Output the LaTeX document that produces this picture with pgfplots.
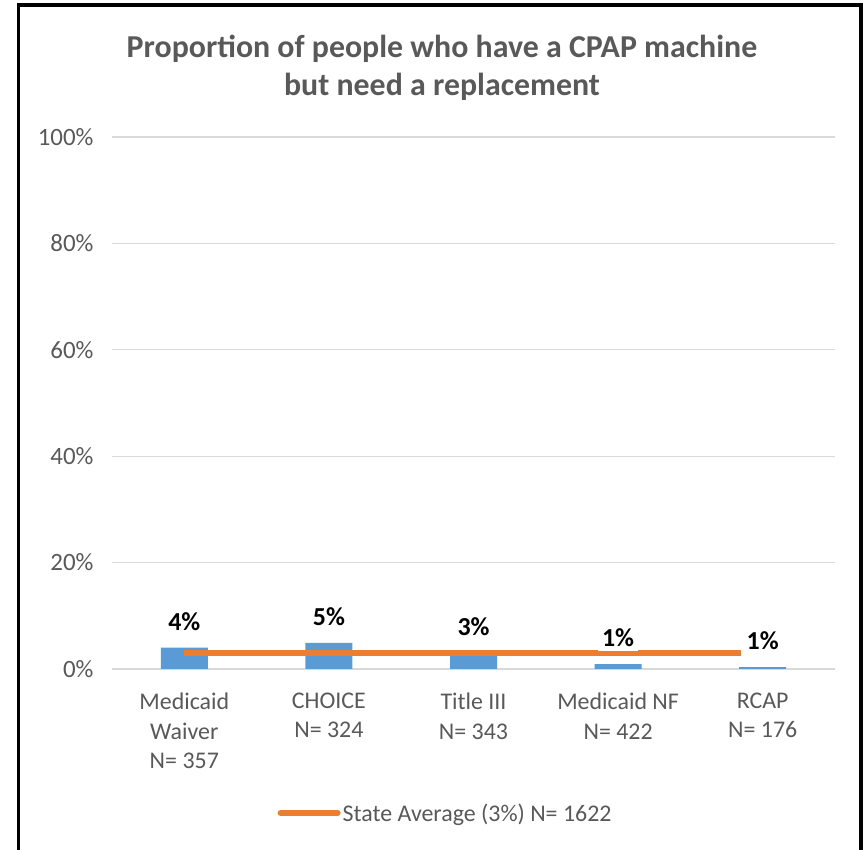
\documentclass[border=0pt]{standalone}
\usepackage{fontspec}
\setmainfont{Carlito}
\usepackage{pgfplots}
\pgfplotsset{compat=1.18}
\definecolor{barblue}{HTML}{5B9BD5}
\definecolor{lineor}{HTML}{ED7D31}
\definecolor{gridc}{HTML}{D9D9D9}
\definecolor{txt}{HTML}{595959}
\begin{document}
\begin{tikzpicture}[x=1bp,y=1bp]
\useasboundingbox (0,0) rectangle (865,850);
\fill[white] (0,0) rectangle (865,850);
\begin{axis}[at={(112bp,181bp)}, anchor=south west, scale only axis,
  width=723bp, height=532bp,
  xmin=-0.5, xmax=4.5, ymin=0, ymax=100,
  ytick={0,20,...,100},
  yticklabel={\pgfmathprintnumber{\tick}\%},
  /pgf/number format/assume math mode=true,
  ymajorgrids, grid style={gridc, line width=1.3bp},
  axis line style={draw=none},
  major tick length=0pt,
  xtick={0,1,2,3,4},
  xticklabels={{Medicaid\\Waiver\\N= 357},{CHOICE\\N= 324},{Title III\\N= 343},{Medicaid NF\\N= 422},{RCAP\\N= 176}},
  xticklabel style={align=center, anchor=north, yshift=-20bp, font=\fontsize{24}{30}\selectfont, text=txt},
  yticklabel style={anchor=east, xshift=-15bp, font=\fontsize{25}{28}\selectfont, text=txt},
  legend style={at={(0.4613,-0.2707)}, anchor=center, draw=none, fill=none,
    font=\fontsize{24}{28}\selectfont, text=txt, legend cell align=left, inner sep=0pt},
  legend image code/.code={\draw[#1, line cap=round] (0bp,0bp) -- (57bp,0bp);},
  clip=false,
]
\addplot[ybar, bar shift=0pt, bar width=47bp, fill=barblue, draw=none, forget plot]
  coordinates {(0,4.0) (1,4.9) (2,3.0) (3,0.9) (4,0.35)};
\addplot[lineor, line width=6bp] coordinates {(0,2.95) (3.85,2.95)};
\addlegendentry{State Average (3\%) N= 1622}
\addplot[ybar, bar shift=0pt, bar width=47bp, draw=none, fill=none, forget plot,
  point meta=explicit symbolic,
  nodes near coords,
  every node near coord/.append style={font=\fontsize{26}{28}\bfseries\selectfont, text=black,
    fill=white, inner sep=4bp, anchor=south, yshift=13bp}]
  coordinates {(0,4.0) [4\%] (1,4.9) [5\%] (2,3.0) [3\%] (3,0.9) [1\%] (4,0.35) [1\%]};
\end{axis}
\node[align=center, font=\fontsize{32}{38}\bfseries\selectfont, text=txt] at (442,782.5)
  {Proportion of people who have a CPAP machine\\but need a replacement};
\draw[black, line width=3.5bp] (18.5,-10) rectangle (861,845);
\end{tikzpicture}
\end{document}
